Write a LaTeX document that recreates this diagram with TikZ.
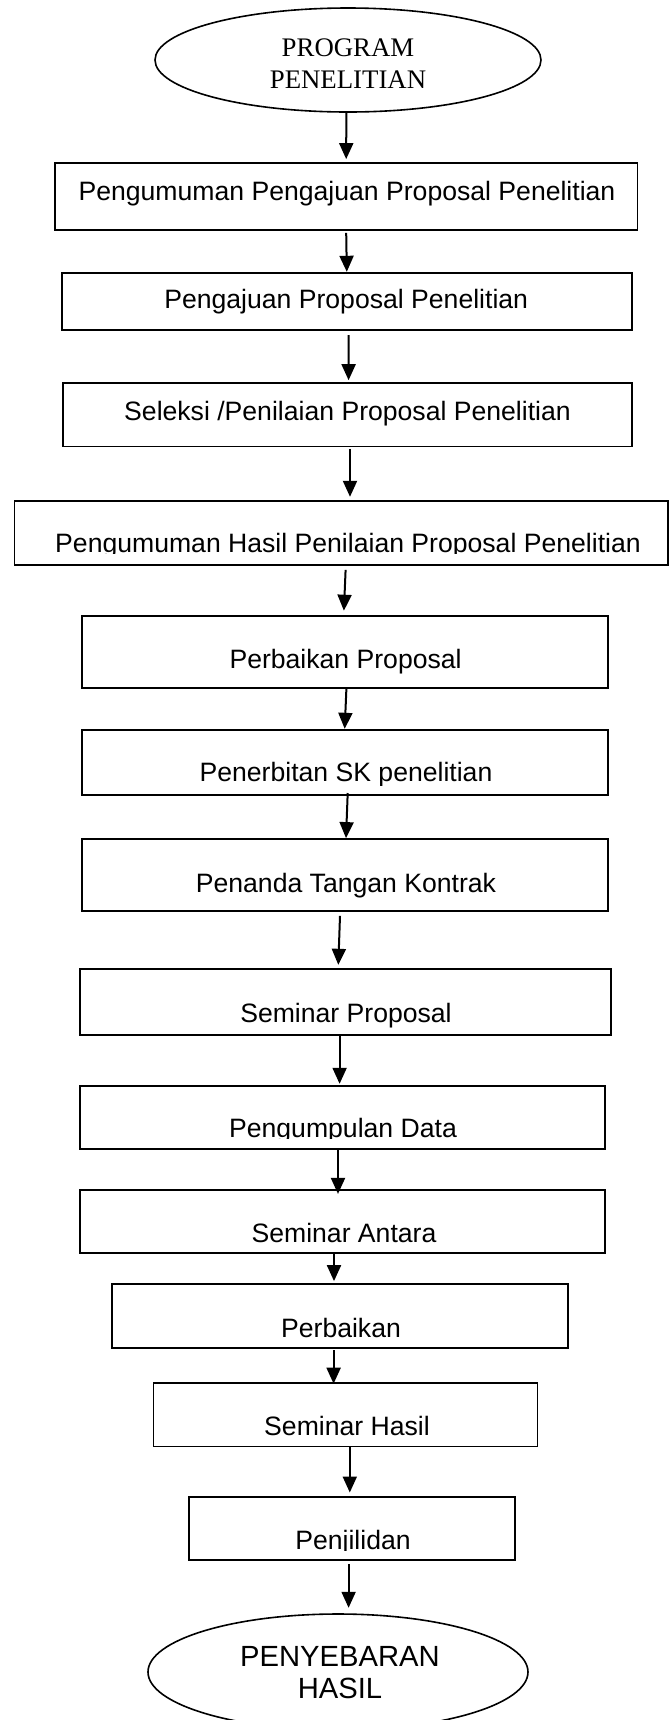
\documentclass[tikz,border=0pt]{standalone}
\usepackage{fontspec}
\setmainfont{Liberation Sans}
\newfontfamily\timesfont{Liberation Serif}
\usetikzlibrary{shapes.geometric,arrows.meta}

\begin{document}
\begin{tikzpicture}[
		x=0.5pt, y=-0.5pt,
		kotak/.style={draw, rectangle, line width=0.9pt, inner sep=0pt},
		elips/.style={draw, ellipse, line width=0.8pt, inner sep=0pt},
		teks/.style={anchor=base, inner sep=0pt, font=\fontsize{13.3}{16}\selectfont},
		panah/.style={-{Triangle[length=8pt,width=7pt]}, line width=1pt},
	]
	% ukuran halaman (px)
	\useasboundingbox (0,0) rectangle (669,1720);

	% awal
	\node[elips, minimum width=193pt, minimum height=52pt] (mulai) at (348,60) {};
	\node[align=center, inner sep=0pt, font=\timesfont\fontsize{13.4}{15.8}\selectfont] (tmulai) at (348,63.6) {PROGRAM\\PENELITIAN};

	% kotak-kotak:
	\node[kotak, minimum width=291.2pt, minimum height=33.5pt] (umum) at (346.2,196.5) {};
	\node[kotak, minimum width=284.8pt, minimum height=28.7pt] (ajuan) at (346.8,301.4) {};
	\node[kotak, minimum width=284.4pt, minimum height=31.6pt] (seleksi) at (347.5,414.9) {};
	\node[kotak, minimum width=326.6pt, minimum height=32.2pt] (hasil) at (341,532.8) {};
	\node[kotak, minimum width=262.8pt, minimum height=35.9pt] (perbaikan) at (345,651.7) {};
	\node[kotak, minimum width=262.8pt, minimum height=32.7pt] (sk) at (345,762.4) {};
	\node[kotak, minimum width=262.8pt, minimum height=36pt] (kontrak) at (345,875) {};
	\node[kotak, minimum width=265.6pt, minimum height=33.1pt] (semprop) at (345.4,1001.7) {};
	\node[kotak, minimum width=262.6pt, minimum height=31.5pt] (data) at (342.4,1117.5) {};
	\node[kotak, minimum width=262.6pt, minimum height=31.7pt] (antara) at (342.4,1221.4) {};
	\node[kotak, minimum width=228.3pt, minimum height=31.8pt] (revisi) at (340,1315.8) {};
	\node[kotak, minimum width=192pt, minimum height=31.6pt] (semhas) at (345.5,1414.9) {};
	\node[kotak, minimum width=163pt, minimum height=31.6pt] (jilid) at (352,1528.4) {};

	% tulisan
	\node[teks] (tumum) at (347,200) {Pengumuman Pengajuan Proposal Penelitian};
	\node[teks] (tajuan) at (346.2,308.3) {Pengajuan Proposal Penelitian};
	\node[teks] (tseleksi) at (347.5,420.4) {Seleksi /Penilaian Proposal Penelitian};
	\begin{scope}
		\clip (0,500) rectangle (669,553);
		\node[teks] (thasil) at (348,552) {Pengumuman Hasil Penilaian Proposal Penelitian};
	\end{scope}
	\node[teks] (tperbaikan) at (345.6,668) {Perbaikan Proposal};
	\begin{scope}
		\clip (0,730) rectangle (669,785);
		\node[teks] (tsk) at (346,781.4) {Penerbitan SK penelitian};
	\end{scope}
	\node[teks] (tkontrak) at (346,892) {Penanda Tangan Kontrak};
	\node[teks] (tsemprop) at (346,1022) {Seminar Proposal};
	\begin{scope}
		\clip (0,1086) rectangle (669,1138);
		\node[teks] (tdata) at (343,1137) {Pengumpulan Data};
	\end{scope}
	\node[teks] (tantara) at (344,1242.6) {Seminar Antara};
	\node[teks] (trevisi) at (341,1337) {Perbaikan};
	\node[teks] (tsemhas) at (347,1435.8) {Seminar Hasil};
	\begin{scope}
		\clip (0,1497) rectangle (669,1550);
		\node[teks] (tjilid) at (353,1549) {Penjilidan};
	\end{scope}

	% akhir
	\node[elips, minimum width=190pt, minimum height=58pt] (sebar) at (338,1672) {};
	\node[align=center, inner sep=0pt, font=\fontsize{14.6}{16.3}\selectfont] (tsebar) at (340,1672.5) {PENYEBARAN\\HASIL};

	% panah
	\draw[panah] ([xshift=-0.85pt]mulai.south) -- ([yshift=1.5pt]umum.north);
	\draw[panah] ([yshift=-1pt]umum.south) -- (ajuan.north);
	\draw[panah] ([xshift=0.9pt,yshift=-2pt]ajuan.south) -- ([xshift=0.55pt,yshift=1.1pt]seleksi.north);
	\draw[panah] ([xshift=1.25pt,yshift=-0.75pt]seleksi.south) -- ([xshift=4.5pt,yshift=1.45pt]hasil.north);
	\draw[panah] ([xshift=2.3pt,yshift=-2pt]hasil.south) -- ([xshift=-0.55pt,yshift=2.1pt]perbaikan.north);
	\draw[panah] ([xshift=0.7pt]perbaikan.south) -- ([xshift=-0.15pt]sk.north);
	\draw[panah] ([xshift=1.35pt,yshift=1.5pt]sk.south) -- ([xshift=0.5pt]kontrak.north);
	\draw[panah] ([xshift=-2.5pt,yshift=-2pt]kontrak.south) -- ([xshift=-3.55pt,yshift=1.45pt]semprop.north);
	\draw[panah] ([xshift=-2.9pt]semprop.south) -- ([xshift=-1.4pt,yshift=0.65pt]data.north);
	\draw[panah] ([xshift=-2.2pt]data.south) -- ([xshift=-2.2pt,yshift=-2.55pt]antara.north);
	\draw[panah] ([xshift=-4.2pt]antara.south) -- ([xshift=-3pt,yshift=1pt]revisi.north);
	\draw[panah] ([xshift=-3.2pt,yshift=-0.75pt]revisi.south) -- ([xshift=-5.95pt,yshift=-0.65pt]semhas.north);
	\draw[panah] ([xshift=2.15pt]semhas.south) -- ([xshift=-1.1pt,yshift=1.7pt]jilid.north);
	\draw[panah] ([xshift=-1.7pt,yshift=-1.5pt]jilid.south) -- ([xshift=5.3pt,yshift=2.7pt]sebar.north);

\end{tikzpicture}
\end{document}
